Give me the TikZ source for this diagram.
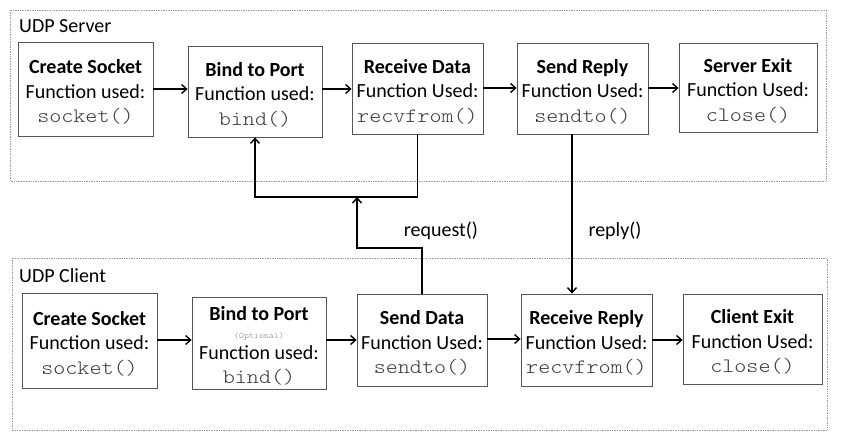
\documentclass[tikz,border=0pt]{standalone}
\usepackage{fontspec}
\setmainfont{Carlito}
\newfontfamily\codefont[FakeStretch=1.12]{Latin Modern Mono Light}
\usetikzlibrary{arrows.meta,calc,shadows}
\definecolor{codegray}{HTML}{3A3A3A}
\definecolor{boxline}{HTML}{555555}
\definecolor{contline}{HTML}{9A9A9A}
\tikzset{
  stepbox/.style={draw=boxline, line width=0.8pt, fill=white, inner sep=0pt, align=center,
    font=\fontsize{20}{24.5}\selectfont,
    drop shadow={shadow xshift=1.2pt, shadow yshift=-1.2pt, opacity=0.25, fill=black!60}},
  container/.style={draw=contline, line width=0.7pt, densely dotted},
  arr/.style={draw=black, line width=1.6pt, -{Straight Barb[length=5pt,width=9pt,line width=1.4pt]}},
  lbl/.style={font=\fontsize{20}{24}\selectfont, inner sep=0pt},
  x=1pt, y=-1pt
}
\newcommand{\cd}[1]{{\codefont\fontsize{20.5}{24.5}\selectfont\color{codegray}#1}}
\newcommand{\ttl}[1]{\rule{0pt}{20pt}\textbf{#1}}
\begin{document}
\begin{tikzpicture}
\useasboundingbox (0,0) rectangle (847,446);
\fill[white] (0,0) rectangle (847,446);
% containers
\draw[container] (10,10) rectangle (826,181);
\draw[container] (12,258) rectangle (827,430);
\node[lbl, anchor=west] (srvlbl) at (19,26) {UDP Server};
\node[lbl, anchor=west] (clilbl) at (19,276) {UDP Client};
% server boxes
\node[stepbox, minimum width=135pt, minimum height=94pt] (cs1) at (85.5,89)
  {\ttl{Create Socket}\\Function used:\\\cd{socket()}};
\node[stepbox, minimum width=134pt, minimum height=91pt] (bp1) at (255,91.5)
  {\ttl{Bind to Port}\\Function used:\\\cd{bind()}};
\node[stepbox, minimum width=131pt, minimum height=91pt] (rd1) at (417.5,88.5)
  {\ttl{Receive Data}\\Function Used:\\\cd{recvfrom()}};
\node[stepbox, minimum width=131pt, minimum height=91pt] (sr1) at (582.5,88.5)
  {\ttl{Send Reply}\\Function Used:\\\cd{sendto()}};
\node[stepbox, minimum width=138pt, minimum height=89pt] (ex1) at (748,87.5)
  {\ttl{Server Exit}\\Function Used:\\\cd{close()}};
% client boxes
\node[stepbox, minimum width=135pt, minimum height=95pt] (cs2) at (89.5,340.5)
  {\ttl{Create Socket}\\Function used:\\\cd{socket()}};
\node[stepbox, minimum width=134pt, minimum height=92pt] (bp2) at (259,343)
  {\ttl{Bind to Port}\\[-6pt]{\codefont\fontsize{8.5}{10}\selectfont\color{black!50}(Optional)}\\[-4pt]Function used:\\\cd{bind()}};
\node[stepbox, minimum width=130pt, minimum height=92pt] (sd2) at (422,340)
  {\ttl{Send Data}\\Function Used:\\\cd{sendto()}};
\node[stepbox, minimum width=131pt, minimum height=92pt] (rr2) at (586.5,340)
  {\ttl{Receive Reply}\\Function Used:\\\cd{recvfrom()}};
\node[stepbox, minimum width=139pt, minimum height=90pt] (ex2) at (752.5,339)
  {\ttl{Client Exit}\\Function Used:\\\cd{close()}};
% server flow
\draw[arr] (cs1.east |- 0,89) -- (bp1.west |- 0,89);
\draw[arr] (bp1.east |- 0,89) -- (rd1.west |- 0,89);
\draw[arr] (rd1.east |- 0,88) -- (sr1.west |- 0,88);
\draw[arr] (sr1.east |- 0,88) -- (ex1.west |- 0,88);
% client flow
\draw[arr] (cs2.east |- 0,340) -- (bp2.west |- 0,340);
\draw[arr] (bp2.east |- 0,340) -- (sd2.west |- 0,340);
\draw[arr] (sd2.east |- 0,339) -- (rr2.west |- 0,339);
\draw[arr] (rr2.east |- 0,340) -- (ex2.west |- 0,340);
% request path
\coordinate (join) at (357,197);
\coordinate (reqturn) at (357,248);
\draw[arr] (rd1.south) -- (rd1.south |- join) -| (bp1.south);
\draw[arr] (sd2.north) |- (reqturn) -- (join);
\node[lbl] (reqlbl) at (441,231) {request()};
% reply path
\coordinate (repx) at (572,0);
\draw[arr] (repx |- sr1.south) -- (repx |- rr2.north);
\node[lbl] (replbl) at (615,231) {reply()};
\end{tikzpicture}
\end{document}
